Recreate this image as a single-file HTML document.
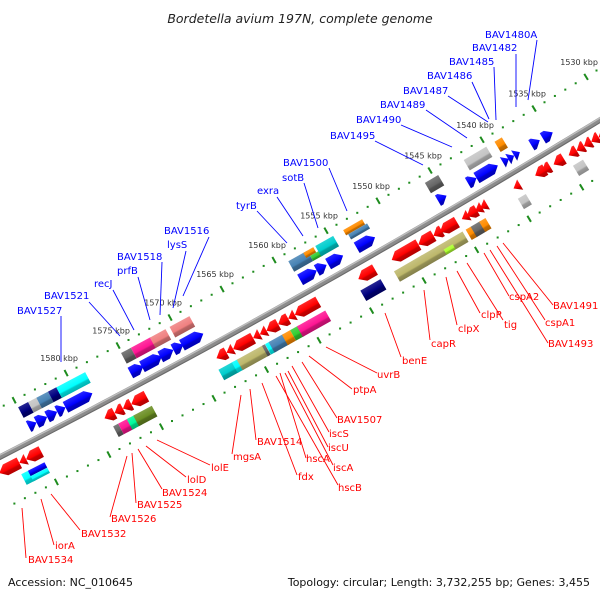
<!DOCTYPE html>
<html><head><meta charset="utf-8"><style>
body{margin:0;background:#fff}
svg{display:block}
text{font-family:"DejaVu Sans","Liberation Sans",sans-serif}
</style></head><body>
<svg id="map" width="600" height="600" viewBox="0 0 600 600" xmlns="http://www.w3.org/2000/svg">
<defs id="defs"></defs>
<rect x="0" y="0" width="600" height="600" fill="#fff"/>
<text x="300" y="23" text-anchor="middle" font-size="12.5" font-style="italic" fill="#222">Bordetella avium 197N, complete genome</text>
<g id="axis"></g>
<g id="ticks"></g>
<g id="feats"></g>
<g id="labels"></g>
<text x="8" y="586" font-size="11" fill="#111">Accession: NC_010645</text>
<text x="590" y="586" text-anchor="end" font-size="11" fill="#111">Topology: circular; Length: 3,732,255 bp; Genes: 3,455</text>
</svg>
<script>
// ---- data (kbp) ----
const tickStart = 1589, tickEnd = 1529;
const upperBoxes = [
[1584.97,1584.01,'navy'],[1584.01,1583.22,'lgray'],[1583.22,1582.10,'steel'],[1582.10,1581.30,'navy'],[1581.30,1578.53,'cyan'],
[1575.08,1574.13,'dgray'],[1574.13,1572.24,'pink'],[1572.31,1570.81,'coral'],[1570.42,1568.51,'coral'],
[1559.01,1557.19,'steel'],[1557.57,1556.61,'orange','o'],[1557.19,1556.23,'lime','i'],[1556.42,1554.70,'dcyan'],[1553.74,1551.92,'orange','o'],[1553.55,1551.73,'steel','i'],
[1545.89,1544.61,'dgray'],[1542.16,1539.99,'lgray'],[1539.20,1538.50,'orange']
];
const upperArrows = [
[1584.94,1584.18],[1584.18,1583.16],[1583.16,1582.20],[1582.20,1581.40],[1581.40,1578.82],
[1575.18,1573.93],[1574.07,1572.16],[1572.31,1571.06],[1571.06,1570.11],[1570.24,1568.19],
[1558.91,1557.32],[1557.32,1556.37],[1556.23,1554.79],[1553.49,1551.73],
[1545.70,1544.88],[1542.83,1542.01],[1542.01,1539.96],[1539.48,1538.90],[1538.96,1538.40],[1538.40,1537.85],[1536.75,1535.94],[1535.65,1534.70]
];
const lowerArrows = [
[1588.96,1587.05],[1587.05,1586.40],[1586.40,1584.96],
[1578.91,1577.95],[1577.95,1577.15],[1577.15,1576.35],[1576.35,1574.91],
[1568.21,1567.25],[1567.25,1566.62],[1566.62,1564.71],[1564.71,1564.07],[1564.07,1563.43],[1563.43,1562.32],[1562.32,1561.36],[1561.36,1560.72],[1560.72,1558.49],
[1554.66,1553.07],
[1551.47,1548.92],[1548.92,1547.48],[1547.48,1546.68],[1546.85,1545.24],[1544.77,1544.13],[1544.29,1543.33],[1543.50,1542.85],[1543.02,1542.37],
[1539.83,1539.20],[1537.76,1536.80],[1537.11,1536.33],[1536.00,1535.04],[1534.56,1533.80],[1533.80,1533.10],[1533.10,1532.40],[1532.40,1531.70],[1531.70,1530.90]
];
const lowerBoxes = [
[1587.35,1586.40,'cyan'],[1586.71,1585.13,'blue','i'],[1586.71,1585.13,'cyan','o'],
[1578.58,1578.10,'dgray'],[1578.10,1577.00,'pink'],[1577.28,1576.33,'spring'],[1576.66,1574.89,'olive'],
[1568.53,1567.09,'dcyan'],[1567.25,1566.61,'cyan'],[1566.78,1564.22,'khaki'],[1564.38,1564.10,'dgray'],[1564.08,1563.43,'cyan'],[1563.74,1562.31,'steel'],[1562.47,1561.69,'orange'],[1561.69,1560.87,'lime'],[1561.04,1558.34,'pink'],
[1554.99,1553.07,'navy'],
[1551.78,1549.07,'khaki'],[1549.24,1547.33,'khaki'],[1547.81,1545.24,'khaki'],[1547.33,1546.47,'gy','o'],
[1544.94,1544.40,'orange'],[1544.46,1543.50,'dgray'],[1543.65,1543.05,'orange'],
[1539.96,1539.20,'lgray'],[1534.70,1533.74,'lgray']
];
const blueLabels = [
['BAV1480A',485,34,537,40,528,100],['BAV1482',472,47,516,54,516,107],['BAV1485',449,61,494,67,496,120],
['BAV1486',427,75,472,82,489,119],['BAV1487',403,90,448,96,488,122],['BAV1489',380,104,426,110,467,138],
['BAV1490',356,119,401,125,452,147],['BAV1495',330,135,375,141,423,165],['BAV1500',283,162,329,168,347,211],
['sotB',282,177,304,183,318,228],['exra',257,190,277,197,303,236],['tyrB',236,205,257,211,287,243],
['BAV1516',164,230,209,237,183,296],['lysS',167,244,186,251,173,308],['BAV1518',117,256,162,262,160,315],
['prfB',117,270,138,277,150,320],['recJ',94,283,113,290,134,330],['BAV1521',44,295,89,302,120,336],
['BAV1527',17,310,61,316,61,362]
];
const redLabels = [
['uvrB',377,374,326,347,377,373],['ptpA',353,389,309,356,352,389],['BAV1507',337,419,302,362,337,418],
['iscS',329,433,292,366,329,432],['iscU',328,447,288,371,328,447],['iscA',333,467,285,373,333,465],
['hscA',306,458,280,373,306,458],['hscB',338,487,276,376,338,485],['fdx',298,476,262,383,297,475],
['BAV1514',257,441,250,389,256,440],['mgsA',233,456,241,395,232,454],
['lolE',211,467,157,440,210,465],['lolD',187,479,146,446,186,477],['BAV1524',162,492,138,449,162,489],
['BAV1525',137,504,132,453,136,503],['BAV1526',111,518,127,456,110,517],['BAV1532',81,533,51,494,80,530],
['iorA',55,545,41,499,54,545],['BAV1534',28,559,22,508,26,558],
['benE',402,360,385,313,401,357],['capR',431,343,424,290,430,340],['clpX',458,328,446,277,457,325],
['clpP',481,314,457,271,480,313],['tig',504,324,467,263,503,320],['cspA2',509,296,484,253,509,296],
['BAV1491',553,305,503,243,553,305],['cspA1',545,322,497,246,545,320],['BAV1493',548,343,490,250,548,343]
];
// ---- scales ----
const colors = {red:'#ff0000',blue:'#0000ff',navy:'#000080',lgray:'#c4c4c4',steel:'#4682b4',cyan:'#00ffff',dcyan:'#00cdcd',
 dgray:'#666666',pink:'#ff1493',coral:'#f08080',orange:'#ff8c00',lime:'#32cd32',spring:'#00fa9a',olive:'#6b8e23',khaki:'#bdb76b',gy:'#adff2f'};
const K0=1580, F0=86.6, FPK=10.45;
function foot(k){return F0+(K0-k)*FPK;}
function yA(x){return 457-0.5617*x+30*(x/600)*(1-x/600);}
function slope(x){return -0.5617+0.05*(1-2*x/600);}
function pos(k,d){const x=foot(k),m=slope(x),L=Math.hypot(1,m);return [x-d*m/L, yA(x)+d/L];}
function ang(k){return Math.atan(slope(foot(k)))*180/Math.PI;}
const NS='http://www.w3.org/2000/svg';
function mk(tag,attrs,parent){const e=document.createElementNS(NS,tag);for(const a in attrs)e.setAttribute(a,attrs[a]);parent.appendChild(e);return e;}
function shade(hex,f){const n=parseInt(hex.slice(1),16);let r=n>>16,g=(n>>8)&255,b=n&255;
 if(f<1){r*=f;g*=f;b*=f;}else{r=r+(255-r)*(f-1);g=g+(255-g)*(f-1);b=b+(255-b)*(f-1);}
 return 'rgb('+Math.round(r)+','+Math.round(g)+','+Math.round(b)+')';}
const defs=document.getElementById('defs');
for(const c in colors){
 const lg=mk('linearGradient',{id:'g-'+c,x1:0,y1:0,x2:0,y2:1},defs);
 mk('stop',{offset:0,'stop-color':shade(colors[c],1.15)},lg);
 mk('stop',{offset:0.55,'stop-color':colors[c]},lg);
 mk('stop',{offset:0.68,'stop-color':shade(colors[c],0.78)},lg);
 mk('stop',{offset:1,'stop-color':shade(colors[c],0.7)},lg);
}
// ---- axis ----
const axis=document.getElementById('axis');
function arcPts(d){let s='';for(let x=-20;x<=620;x+=10){const m=slope(x),L=Math.hypot(1,m);s+=(x-d*m/L).toFixed(1)+','+(yA(x)+d/L).toFixed(1)+' ';}return s;}
let el=mk('polyline',{points:arcPts(0),fill:'none',stroke:'#8c8c8c','stroke-width':5.6},axis);


el=mk('polyline',{points:arcPts(-1.8),fill:'none',stroke:'#bdbdbd','stroke-width':1.4},axis);


el=mk('polyline',{points:arcPts(2.2),fill:'none',stroke:'#6a6a6a','stroke-width':1},axis);


// ---- ticks ----
const tg=document.getElementById('ticks');
const tracks=[-44,48];
for(let k=tickStart;k>=tickEnd;k--){
 for(const d of tracks){
  if(k%5===0){
   const a=pos(k,d-3.5),b=pos(k,d+3.5);
   el=mk('line',{x1:a[0],y1:a[1],x2:b[0],y2:b[1],stroke:'#1e8c1e','stroke-width':2},tg);
   
   
  } else {
   const p=pos(k,d);
   el=mk('rect',{x:p[0]-1,y:p[1]-1,width:2,height:2,fill:'#1e8c1e'},tg);
   
   
  }
 }
 if(k%5===0){
  const p=pos(k,-44);
  if(p[0]-7>20){
   el=mk('text',{x:p[0]-7,y:p[1]-12,'text-anchor':'middle','font-size':8,fill:'#333'},tg);
   el.textContent=k+' kbp';
   
   
  }
 }
}
// ---- features ----
const fg=document.getElementById('feats');
function feature(a,b,d,h,color,type,name){
 const pa=pos(a,d),pb=pos(b,d),len=Math.hypot(pb[0]-pa[0],pb[1]-pa[1]);
 const c=pos((a+b)/2,d),r=ang((a+b)/2);
 const g=mk('g',{transform:'translate('+c[0].toFixed(2)+','+c[1].toFixed(2)+') rotate('+r.toFixed(2)+')'},fg);
 const L=len/2,H=h/2;let pts;
 if(type==='box'){pts=[[-L,-H],[L,-H],[L,H],[-L,H]];}
 else{
  const hl=Math.min(7,len);
  let p;
  if(len<=8) p=[[-L,-H],[L,0],[-L,H]];
  else p=[[-L,-H],[L-hl,-H],[L,0],[L-hl,H],[-L,H]];
  pts = type==='left' ? p.map(q=>[-q[0],q[1]]) : p;
 }
 const poly=mk('polygon',{points:pts.map(q=>q[0].toFixed(2)+','+q[1].toFixed(2)).join(' '),fill:'url(#g-'+color+')'},g);
 
 
}
for(const f of upperBoxes){let d=-30,h=12;if(f[3]==='o'){d=-33;h=6;}else if(f[3]==='i'){d=-27;h=6;}feature(f[0],f[1],d,h,f[2],'box','upper-feature-box');}
for(const f of upperArrows){feature(f[0],f[1],-14,12,'blue','right','upper-gene-arrow');}
for(const f of lowerArrows){feature(f[0],f[1],14,12,'red','left','lower-gene-arrow');}
for(const f of lowerBoxes){let d=31,h=12;if(f[3]==='o'){d=34;h=6;}else if(f[3]==='i'){d=28;h=6;}feature(f[0],f[1],d,h,f[2],'box','lower-feature-box');}
// ---- labels ----
const lg2=document.getElementById('labels');
function label(l,col,nm){
 el=mk('line',{x1:l[3],y1:l[4],x2:l[5],y2:l[6],stroke:col,'stroke-width':0.9},lg2);
 
 
 el=mk('text',{x:l[1],y:l[2]+4,'font-size':10,fill:col},lg2);
 el.textContent=l[0];
 
 
}
for(const l of blueLabels)label(l,'#0000ff','gene-label-upper');
for(const l of redLabels)label(l,'#ff0000','gene-label-lower');
</script>
</body></html>
